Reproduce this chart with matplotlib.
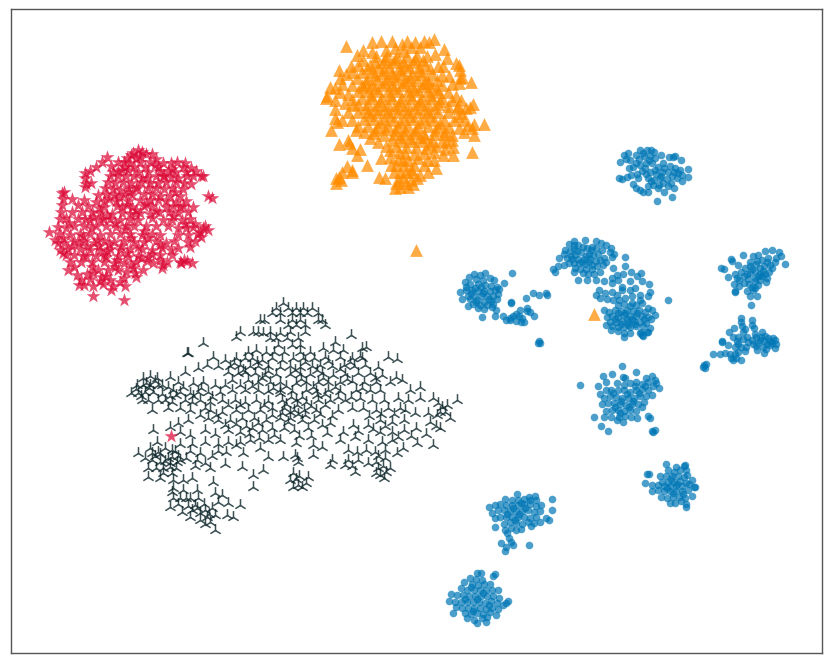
import matplotlib
matplotlib.use("Agg")
import matplotlib.pyplot as plt
import numpy as np

# t-SNE embedding, coordinates
blue_pts = [
    # top cluster
    (624,155),(628,153),(640,150),(647,150),(651,150),(654,152),(620,162),(626,159),(630,160),(636,155),(644,156),(650,156),(655,158),(661,155),(669,157),(673,157),(675,156),
    (681,160),(629,168),(636,163),(640,165),(646,163),(652,163),(658,167),(664,168),(670,166),(675,168),(680,170),(688,169),(619,178),(622,179),(627,177),(631,175),(637,174),
    (646,174),(650,172),(656,174),(662,172),(668,172),(674,172),(678,173),(682,175),(688,177),(638,178),(648,178),(654,180),(660,178),(667,179),(672,176),(682,181),(633,184),
    (636,188),(640,190),(648,186),(653,185),(659,185),(663,183),(668,186),(674,188),(643,192),(648,192),(658,188),(664,192),(672,197),(657,201),
    (643,153),(649,160),(633,167),(655,170),(663,163),(642,171),(651,181),(671,183),(677,178),(661,176),(645,168),(639,159),
    # right upper cluster
    (731,259),(732,261),(743,255),(750,262),(753,256),(758,255),(765,251),(772,250),(779,252),(785,264),(721,268),(724,269),(738,265),(745,268),(750,266),(756,264),(762,260),(768,258),(776,258),
    (781,256),(750,273),(755,271),(760,268),(764,266),(770,265),(775,262),(769,272),(765,274),(760,274),(744,276),(748,279),(755,278),(760,280),(767,278),(728,277),(735,274),(737,278),
    (739,280),(744,283),(749,284),(755,281),(762,276),(766,282),(734,284),(739,286),(747,291),(752,287),(755,288),(758,285),(735,292),(750,296),(753,290),(757,296),(751,305),(735,291),
    (757,261),(763,271),(772,268),(758,276),(752,269),(747,274),(767,262),(741,272),
    # right mid cluster
    (741,318),(741,322),(752,320),(742,326),(745,329),(752,325),(754,328),(734,328),(743,332),(755,334),(729,332),(762,332),(722,341),(733,337),(738,337),(743,339),(752,340),(756,337),
    (765,336),(768,338),(773,338),(775,340),(722,342),(738,344),(748,342),(753,344),(760,340),(764,341),(770,341),(776,344),(728,345),(735,347),(746,347),(756,346),(763,347),(770,345),
    (775,348),(713,354),(720,354),(725,353),(730,354),(738,352),(745,351),(757,350),(764,353),(731,358),(736,358),(741,360),(733,360),(704,365),(703,367),(706,364),(705,368),
    (761,337),(767,344),(758,343),(772,343),(766,349),(741,347),(735,354),(747,337),(737,341),
    # left cluster
    (485,273),(474,274),(480,275),(469,277),(476,279),(483,280),(490,278),(494,280),(465,282),(470,284),(478,284),(485,285),(491,286),(497,287),(460,292),(466,290),(472,290),(478,291),
    (484,291),(490,291),(495,290),(499,289),(468,296),(474,296),(481,296),(487,296),(493,296),(498,294),(462,299),(470,299),(477,300),(484,302),(491,301),(497,299),(473,304),(480,305),
    (487,305),(493,304),(468,306),(478,308),(484,309),(492,307),(496,310),(482,317),(495,316),(512,273),(504,283),(511,303),
    (475,288),(471,293),(481,287),(476,302),(489,299),(466,287),(483,293),
    # left arm
    (533,293),(539,295),(546,293),(547,295),(511,302),(526,298),(520,310),(527,308),(527,311),(530,312),(534,316),(503,316),(506,320),(510,318),(513,316),(516,314),(510,320),(516,321),
    (519,316),(522,318),(521,322),(524,322),(539,341),(538,343),(540,343),
    # arc
    (574,241),(585,240),(569,244),(574,245),(578,245),(596,241),(601,243),(606,245),(611,248),(565,250),(570,251),(583,247),(587,248),(591,250),(596,248),(602,250),(610,252),(614,254),
    (564,254),(575,255),(581,252),(589,254),(593,255),(598,254),(604,258),(612,257),(559,258),(567,258),(572,259),(578,259),(584,259),(590,259),(596,261),(600,260),(606,262),(558,266),
    (564,265),(569,263),(574,263),(579,263),(585,264),(592,265),(597,266),(603,265),(613,268),(625,257),(575,268),(580,269),(586,269),(592,269),(553,269),(555,272),(574,272),(583,273),
    (588,274),(594,274),(600,272),(612,278),(617,275),(623,274),(625,266),(631,272),(637,276),(641,273),(578,280),(587,280),(596,280),(604,281),(612,283),(618,280),
    (577,251),(586,256),(592,247),(571,256),(582,262),(589,262),(574,249),
    # lower blob
    (642,281),(622,287),(630,281),(650,292),(599,290),(605,293),(612,292),(617,295),(622,290),(630,290),(635,288),(649,284),(632,296),(640,295),(648,296),(596,295),(600,298),(607,299),
    (613,300),(619,300),(625,298),(632,303),(640,300),(618,305),(624,304),(630,306),(636,305),(642,303),(648,308),(604,310),(609,312),(615,310),(621,311),(627,310),(633,311),(639,310),
    (645,312),(652,310),(607,317),(612,316),(618,317),(624,315),(630,316),(636,316),(642,316),(648,317),(655,315),(610,322),(616,322),(622,321),(628,322),(634,321),(640,322),(646,323),
    (651,319),(606,325),(612,326),(618,327),(624,327),(630,327),(636,326),(643,326),(650,328),(611,330),(618,331),(624,333),(630,333),(641,332),(647,332),(624,337),(642,335),(648,332),
    (640,333),(643,336),(668,300),
    (625,313),(632,319),(621,324),(637,313),(615,319),(628,325),(644,319),(635,324),(618,313),(627,319),
    # centre right cluster
    (622,366),(580,385),(636,372),(603,376),(612,374),(623,377),(625,378),(646,378),(652,376),(656,383),(659,388),(598,386),(606,382),(617,383),(624,385),(630,383),(636,382),(642,384),
    (648,382),(655,380),(600,394),(606,390),(611,390),(618,390),(624,390),(630,392),(636,390),(642,389),(648,390),(653,386),(604,398),(610,396),(616,397),(622,398),(628,398),(634,398),
    (640,396),(646,396),(652,395),(602,404),(608,403),(614,403),(620,404),(626,405),(632,404),(638,404),(644,402),(606,411),(612,410),(618,410),(624,411),(630,410),(636,411),(642,407),
    (594,417),(604,417),(611,417),(619,417),(625,416),(631,417),(637,418),(648,416),(650,418),(601,426),(608,431),(652,431),(655,430),(653,432),(617,420),(623,422),
    (627,394),(621,401),(633,401),(615,407),(629,407),(639,393),(613,393),(645,386),(635,386),(620,413),
    # lower right cluster
    (666,464),(676,467),(684,466),(685,465),(668,470),(674,472),(680,470),(686,470),(647,474),(649,474),(660,476),(666,476),(672,476),(678,476),(684,477),(687,475),(662,482),(668,482),
    (674,482),(680,481),(686,483),(692,480),(645,483),(652,485),(658,485),(664,486),(670,486),(676,486),(682,486),(689,484),(694,487),(652,491),(658,490),(664,491),(670,491),(676,491),
    (682,491),(688,490),(695,487),(661,497),(667,498),(673,497),(679,497),(685,498),(692,496),(670,503),(675,503),(681,501),(686,504),(686,507),
    (671,479),(677,484),(683,494),(667,488),(673,493),
    # lower cluster
    (517,494),(529,497),(535,496),(505,499),(512,500),(518,500),(524,499),(530,500),(536,500),(552,499),(489,507),(495,505),(500,504),(506,505),(512,505),(518,505),(524,504),(530,504),
    (536,506),(541,505),(492,513),(498,510),(504,510),(510,511),(516,511),(522,511),(528,510),(534,512),(540,511),(552,510),(495,518),(500,517),(506,517),(512,517),(518,517),(524,517),
    (530,518),(536,517),(546,518),(549,520),(495,527),(504,524),(510,522),(516,523),(522,524),(528,522),(534,523),(540,522),(505,530),(511,528),(516,530),(521,529),(531,526),(507,533),
    (509,538),(511,542),(513,545),(501,543),(506,547),(505,551),(529,545),
    (513,508),(519,514),(525,508),(507,514),(521,503),(515,520),
    # bottom cluster
    (477,573),(481,573),(495,574),(493,576),(470,578),(476,579),(482,580),(464,582),(472,584),(478,585),(484,584),(490,584),(461,588),(467,590),(474,590),(480,590),(486,590),(492,590),
    (498,590),(451,594),(457,595),(463,595),(469,596),(475,596),(481,596),(487,596),(493,596),(499,598),(508,601),(449,601),(455,602),(461,602),(467,602),(473,602),(479,602),(485,603),
    (491,601),(497,603),(503,605),(506,603),(456,607),(462,608),(468,608),(474,608),(480,608),(486,609),(492,608),(498,609),(453,613),(465,613),(471,614),(477,613),(483,614),(490,612),
    (496,615),(467,618),(474,620),(482,618),(487,617),(477,623),(486,622),
    (471,587),(477,599),(483,593),(465,599),(489,605),(473,611),
]
orange_pts = [
    (346,46),(434,39),(372,42),(381,41),(392,41),(407,41),(424,41),(429,42),(402,44),(415,42),(363,50),(372,52),(386,50),(395,48),(411,47),(420,47),(403,51),(444,49),(357,55),
    (376,56),(387,56),(397,57),(407,56),(417,56),(427,56),(435,54),(447,58),(363,60),(383,62),(393,62),(403,62),(413,62),(423,60),(438,66),(443,66),(351,66),(358,65),(370,65),
    (378,67),(389,67),(399,68),(409,67),(419,67),(430,68),(456,63),(459,65),(339,70),(346,74),(352,72),(362,72),(372,72),(382,73),(392,73),(402,74),(412,74),(422,74),(432,74),
    (442,75),(449,76),(460,70),(340,78),(357,78),(367,79),(377,79),(387,79),(397,79),(407,80),(417,80),(427,79),(437,80),(462,77),(471,82),(330,87),(335,88),(342,84),(352,85),
    (362,85),(372,85),(382,85),(392,85),(402,85),(412,86),(422,86),(432,86),(442,85),(452,84),(459,83),(460,78),(326,98),(327,96),(340,92),(348,94),(358,91),(368,91),(378,91),
    (388,91),(398,91),(408,91),(418,91),(428,91),(438,92),(448,92),(456,96),(335,100),(352,99),(362,98),(372,98),(382,98),(392,98),(402,98),(412,98),(422,98),(432,98),(442,98),
    (452,100),(461,100),(473,104),(470,107),(335,109),(358,104),(368,104),(378,105),(388,105),(398,105),(408,105),(418,104),(428,105),(438,104),(448,106),(458,106),(466,108),(337,122),
    (331,130),(335,118),(348,112),(358,112),(368,112),(378,112),(388,112),(398,112),(408,112),(418,112),(428,112),(438,112),(448,112),(458,116),(364,119),(374,119),(384,119),(394,120),
    (404,119),(414,119),(424,119),(434,120),(444,120),(454,120),(464,120),(474,124),(484,124),(358,126),(368,126),(378,127),(388,126),(398,127),(408,126),(418,127),(428,126),(438,127),
    (449,127),(459,128),(468,125),(472,128),(356,130),(364,132),(374,133),(384,135),(394,134),(404,134),(414,133),(424,134),(434,134),(444,134),(452,135),(464,132),(474,135),(348,140),
    (349,143),(339,144),(370,138),(378,142),(392,140),(402,141),(412,141),(422,141),(432,141),(442,141),(452,140),(352,148),(357,155),(360,149),(386,146),(396,146),(406,147),(416,147),
    (426,148),(436,146),(446,142),(453,147),(472,152),(399,152),(405,153),(414,154),(424,153),(434,152),(443,155),(453,155),(367,165),(390,157),(398,159),(408,160),(418,158),(428,160),
    (381,158),(347,166),(352,170),(342,172),(339,177),(336,178),(379,177),(385,178),(396,165),(404,165),(414,165),(424,165),(434,160),(428,172),(394,172),(400,172),(406,172),(412,172),
    (417,178),(403,177),(396,183),(400,187),(413,184),(395,188),(408,187),(411,180),(336,183),(341,180),(352,172),
    # second pass, dense centre
    (367,68),(375,75),(384,70),(393,76),(401,70),(410,77),(419,71),(428,83),(437,89),(366,82),(375,88),(385,82),(394,88),(404,82),(414,89),(424,83),(371,95),(380,101),(390,95),(400,101),
    (410,95),(420,101),(430,95),(440,101),(365,108),(374,109),(384,109),(394,108),(404,109),(414,108),(424,109),(434,108),(370,115),(380,122),(390,116),(400,122),(410,116),(420,122),(430,116),
    (440,123),(375,130),(385,129),(395,130),(405,130),(415,130),(425,137),(435,130),(445,131),(395,59),(405,65),(415,59),(425,65),(385,59),(375,62),(363,87),(353,105),(345,103),(342,120),
    (352,120),(457,108),(462,113),(445,149),(430,144),(420,137),(410,138),(400,137),(390,150),(403,160),(411,169),(420,175),(436,168),(399,180),(406,183),(391,165),
    (416,250),(594,314),
]
red_pts = [
    (138,150),(142,152),(131,155),(146,154),(152,154),(107,157),(127,158),(136,158),(156,159),(177,162),(185,163),(102,162),(118,162),(124,162),(130,163),(140,162),(150,162),(163,163),
    (171,163),(96,167),(111,166),(134,167),(145,167),(158,167),(183,167),(191,168),(85,173),(90,171),(122,170),(128,170),(138,172),(148,172),(168,171),(175,172),(186,172),(201,176),
    (203,176),(85,178),(110,176),(118,176),(126,176),(134,176),(156,176),(163,176),(193,176),(86,184),(91,183),(108,182),(115,183),(123,182),(131,183),(141,182),(150,183),(158,183),
    (166,182),(176,182),(184,183),(191,184),(85,187),(105,188),(113,189),(120,190),(128,188),(136,189),(148,188),(156,188),(164,189),(172,188),(183,189),(62,193),(64,192),(98,195),
    (106,194),(114,195),(124,195),(132,195),(144,194),(152,194),(160,196),(170,196),(180,196),(208,196),(63,199),(72,199),(84,200),(96,202),(104,201),(116,201),(128,201),(140,200),
    (150,200),(158,200),(176,202),(186,201),(212,198),(62,205),(78,205),(88,206),(104,207),(122,207),(132,207),(144,206),(152,206),(166,207),(173,206),(183,206),(193,207),(61,212),
    (72,212),(82,212),(92,212),(100,213),(112,214),(122,213),(130,214),(140,213),(150,214),(159,212),(169,212),(178,213),(188,212),(60,219),(66,218),(90,220),(100,220),(110,219),
    (120,220),(130,220),(138,220),(152,218),(163,220),(172,220),(182,220),(190,219),(203,228),(58,227),(66,228),(74,226),(84,226),(96,226),(106,226),(116,227),(126,226),(134,226),
    (146,226),(156,226),(168,226),(178,228),(186,228),(193,227),(208,230),(49,232),(200,232),(59,234),(70,235),(80,234),(90,234),(100,235),(110,234),(120,234),(130,234),(142,235),
    (152,234),(160,235),(178,235),(188,235),(198,234),(58,243),(64,243),(74,241),(84,241),(94,243),(104,241),(114,242),(124,241),(134,242),(144,242),(156,241),(166,243),(174,241),
    (188,242),(195,241),(60,250),(68,249),(80,249),(90,250),(100,250),(110,249),(120,250),(130,249),(142,249),(152,250),(162,248),(178,248),(66,255),(74,255),(86,256),(96,256),(106,257),
    (118,256),(128,257),(138,256),(148,257),(160,255),(172,255),(70,262),(81,262),(92,262),(104,262),(114,263),(124,263),(136,262),(147,261),(160,260),(181,263),(187,261),(192,263),
    (68,270),(98,270),(108,270),(118,270),(133,268),(143,270),(153,263),(163,265),(180,262),(93,273),(106,276),(126,272),(135,273),(162,268),(81,280),(90,279),(100,281),(110,280),
    (120,282),(136,277),(84,285),(93,286),(103,284),(113,286),(125,286),(93,296),(111,290),(124,300),(79,285),
    # second pass, off the rows
    (133,153),(140,156),(125,167),(118,171),(113,172),(142,178),(137,187),(129,192),(119,197),(109,199),(99,208),(93,217),(85,219),(78,219),(69,223),(63,238),(55,240),(72,246),(87,246),
    (99,246),(109,244),(121,246),(131,238),(125,229),(115,223),(107,215),(136,210),(146,204),(156,211),(166,201),(175,192),(164,176),(160,171),(171,177),(187,176),(196,171),(180,207),(173,216),
    (185,224),(195,224),(205,226),(201,237),(190,247),(171,250),(160,245),(148,238),(138,247),(127,253),(117,260),(104,255),(92,267),(83,256),(74,267),(63,253),(77,275),(87,274),(102,277),
    (115,267),(124,278),(131,265),(141,258),(152,254),(167,262),(184,260),(144,231),(135,214),(127,205),(117,206),(103,219),(91,228),(83,236),(79,243),(97,240),(107,251),(147,178),(155,165),
    (172,169),(178,178),
]
black_pts = [
    (283,303),(276,308),(288,308),(296,308),(303,308),(312,308),(272,313),(280,313),(292,313),(300,313),(307,313),(318,313),(260,320),(264,320),(280,320),(292,320),(300,320),(318,320),(322,320),
    (288,325),(296,325),(305,325),(325,325),(240,332),(253,332),(258,332),(263,333),(270,332),(280,333),(290,332),(305,332),(236,337),(270,338),(276,338),(287,338),(298,338),(351,335),
    (203,343),(278,345),(292,345),(300,345),(335,342),(187,353),(188,353),(248,352),(256,350),(266,352),(274,352),(284,352),(300,352),(310,352),(323,348),(333,350),(343,350),(362,348),
    (366,347),(213,357),(225,360),(236,358),(245,358),(252,358),(262,360),(272,358),(282,360),(293,358),(303,358),(314,358),(325,357),(340,357),(352,358),(360,356),(388,357),(397,359),
    (207,365),(198,368),(218,366),(230,366),(240,365),(250,366),(258,366),(268,366),(280,367),(290,366),(300,367),(312,366),(320,365),(332,366),(344,365),(354,366),(365,365),(378,367),
    (143,378),(150,376),(157,378),(170,377),(185,372),(228,372),(238,373),(245,372),(255,373),(265,375),(276,374),(290,374),(300,374),(310,374),(322,373),(333,375),(345,374),(358,373),
    (370,373),(382,375),(137,385),(143,385),(150,385),(158,385),(178,382),(193,383),(203,382),(215,385),(232,380),(248,380),(258,382),(270,382),(280,382),(296,383),(306,382),(318,382),
    (328,382),(340,382),(352,381),(364,382),(376,382),(390,382),(396,377),(402,380),(131,393),(138,393),(145,392),(153,392),(162,394),(173,390),(180,392),(190,393),(198,392),(208,392),
    (220,392),(232,390),(245,390),(258,390),(268,391),(280,390),(292,391),(306,390),(316,391),(328,390),(340,391),(356,390),(370,390),(380,390),(410,390),(420,387),(142,400),(148,400),
    (158,400),(165,400),(172,402),(185,400),(192,402),(200,400),(210,402),(222,400),(235,400),(245,402),(256,400),(268,401),(282,400),(296,400),(306,402),(318,400),(330,400),(345,400),
    (360,398),(372,400),(384,400),(398,398),(408,400),(420,398),(433,398),(457,400),(152,410),(168,408),(180,408),(190,410),(210,410),(222,412),(236,410),(248,410),(260,410),(272,408),
    (284,408),(294,410),(304,410),(316,410),(325,405),(338,410),(352,408),(363,408),(376,410),(388,408),(400,408),(415,413),(428,413),(438,403),(447,405),(440,412),(450,418),(178,423),
    (170,427),(200,415),(208,418),(153,430),(188,420),(218,420),(230,420),(242,418),(254,418),(266,420),(280,418),(290,418),(302,420),(314,420),(330,423),(353,425),(368,425),(380,420),
    (392,422),(404,420),(430,422),(440,428),(157,442),(180,432),(190,435),(205,430),(215,434),(228,430),(240,432),(252,428),(262,430),(272,428),(284,428),(294,430),(308,428),(380,432),
    (392,432),(404,430),(416,428),(426,434),(436,426),(138,453),(150,448),(158,452),(165,448),(172,450),(180,444),(192,444),(205,442),(218,444),(228,442),(240,442),(250,440),(268,440),
    (280,440),(296,443),(313,445),(322,447),(327,433),(340,440),(355,437),(368,440),(382,442),(392,440),(403,448),(417,443),(433,445),(145,458),(152,460),(160,462),(168,458),(172,457),
    (178,456),(186,458),(200,453),(212,456),(226,452),(243,453),(260,448),(268,457),(283,457),(295,455),(297,458),(313,455),(348,450),(357,452),(366,450),(375,452),(385,450),(397,453),
    (148,468),(156,468),(163,468),(170,467),(176,468),(195,466),(210,468),(225,464),(242,467),(253,475),(263,470),(298,462),(332,460),(348,460),(368,463),(376,462),(385,458),(148,477),
    (160,478),(173,480),(183,480),(192,478),(213,482),(293,473),(293,487),(298,485),(308,477),(330,465),(345,465),(355,472),(380,475),(378,468),(390,468),(384,478),(173,488),(183,490),
    (197,490),(215,493),(222,495),(253,487),(173,498),(180,498),(190,498),(198,498),(228,503),(240,505),(170,507),(182,512),(190,517),(200,513),(207,517),(210,522),(200,520),(227,515),
    (233,517),(215,530),(205,510),(212,508),(197,508),(188,506),
    # second pass, the dark clumps
    (146,383),(149,388),(155,381),(141,396),(136,389),(162,385),(170,396),(183,387),(168,387),(176,395),(193,396),(201,388),(212,397),(225,385),(240,385),(252,386),(262,378),(273,388),(286,386),
    (301,379),(313,387),(323,378),(335,387),(347,379),(362,388),(375,378),(234,363),(243,370),(257,362),(268,371),(295,370),(305,362),(317,370),(328,361),(340,369),(350,362),(362,358),
    (280,393),(286,404),(291,397),(297,405),(302,397),(290,412),(298,414),(305,415),(282,413),(272,415),(264,405),(311,406),(320,414),(332,416),(240,405),(228,405),(216,415),(205,408),
    (160,454),(165,461),(170,463),(175,451),(180,460),(155,456),(163,473),(172,473),(152,453),(177,462),(190,451),(197,460),(205,463),(218,451),(236,445),(249,434),(259,438),(236,424),
    (225,425),(246,426),(258,423),(274,435),(288,422),(299,436),(311,436),(322,425),(343,432),(358,431),(373,429),(385,426),(398,437),(411,436),(378,456),(383,466),(376,473),(386,472),
    (296,479),(299,476),(302,487),(290,480),(306,483),(405,410),(394,414),(381,414),(369,416),(437,415),(445,412),(442,407),(317,395),(325,394),(338,397),(351,397),(172,492),(178,504),
    (204,504),(209,514),(215,515),(205,524),(195,505),(186,498),(192,510),(218,502),(352,466),(358,460),
]
red_extra = [(171,436)]

blue_color = "#0077B6"
orange_color = "#FF8C00"
red_color = "#DC0A37"
black_color = "#0C2529"

fig = plt.figure(figsize=(8.3, 6.64), dpi=100)
ax = fig.add_axes([11/830, 1 - 652.5/664, 811/830, 644/664])

blue = np.array(blue_pts)
orange = np.array(orange_pts)
red = np.array(red_pts + red_extra)
black = np.array(black_pts)

ax.scatter(blue[:, 0], blue[:, 1], s=30, c=blue_color, marker="o", alpha=0.7, linewidths=0)
ax.scatter(black[:, 0], black[:, 1], s=85, c=black_color, marker="2", alpha=0.8, linewidths=1.1)
ax.scatter(red[:, 0], red[:, 1], s=110, c=red_color, marker="*", alpha=0.72, linewidths=0)
ax.scatter(orange[:, 0], orange[:, 1], s=85, c=orange_color, marker="^", alpha=0.72, linewidths=0)

ax.set_xlim(11, 822)
ax.set_ylim(653, 8)
ax.set_xticks([])
ax.set_yticks([])
for s in ax.spines.values():
    s.set_color("#555555")
    s.set_linewidth(1.0)

fig.savefig("out.png", dpi=100)
